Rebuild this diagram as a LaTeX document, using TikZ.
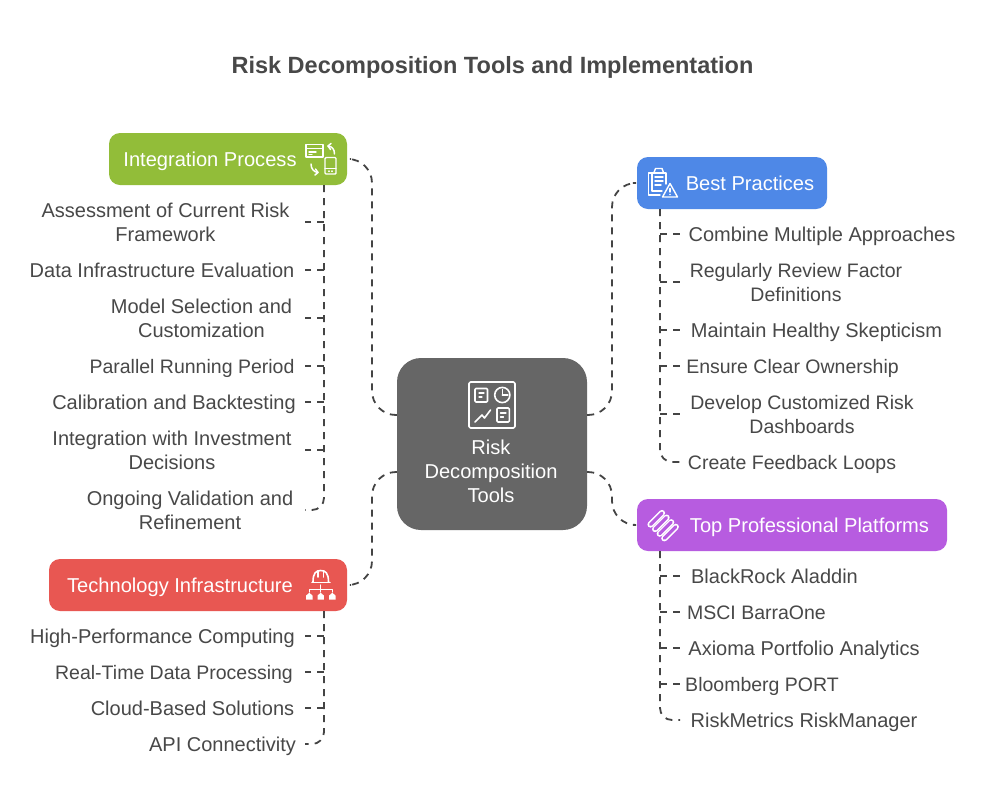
\documentclass[tikz,border=0pt]{standalone}
\usepackage{fontspec}
\setmainfont{Liberation Sans}
\definecolor{ink}{HTML}{484848}
\definecolor{conn}{HTML}{444444}
\definecolor{cgreen}{HTML}{92BD39}
\definecolor{cblue}{HTML}{4E88E7}
\definecolor{cred}{HTML}{E85752}
\definecolor{cpurple}{HTML}{B75CE0}
\definecolor{cdark}{HTML}{666666}
\tikzset{
  head/.style={rounded corners=11pt,inner sep=0pt},
  headtext/.style={text=white,font=\fontsize{20.1}{24}\selectfont,inner sep=0pt,
    execute at begin node=\strut,execute at end node=\strut},
  item/.style={text=ink,font=\fontsize{20}{24}\selectfont,align=center,inner sep=0pt,
    execute at begin node=\strut,execute at end node=\strut},
  itemtight/.style={item,font=\fontsize{19.5}{24}\selectfont},
  link/.style={draw=conn,line width=1.8pt,dash pattern=on 7pt off 6pt},
  ico/.style={draw=white,line width=1.6pt,line cap=round,line join=round},
}
\begin{document}
\begin{tikzpicture}[x=1pt,y=-1pt]
\useasboundingbox (0,0) rectangle (984,804);
\fill[white] (0,0) rectangle (984,804);
\node[text=ink,font=\bfseries\fontsize{23.5}{28}\selectfont,inner sep=0pt] (title) at (492.5,67) {Risk Decomposition Tools and Implementation};

% boxes
\node[head,fill=cdark,rounded corners=24pt,minimum width=190pt,minimum height=172pt] (center) at (492,444) {};
\node[head,fill=cgreen,minimum width=238pt,minimum height=52pt] (integ) at (228,159) {};
\node[head,fill=cred,minimum width=298pt,minimum height=52pt] (tech) at (198,585) {};
\node[head,fill=cblue,minimum width=190pt,minimum height=52pt] (best) at (732,183) {};
\node[head,fill=cpurple,minimum width=310pt,minimum height=52pt] (plat) at (792,525) {};

\node[headtext,align=center] (centerlabel) at (491,475.2) {Risk\\Decomposition\\Tools};
\node[headtext] (integlabel) at (210,161.2) {Integration Process};
\node[headtext] (techlabel) at (180,587.2) {Technology Infrastructure};
\node[headtext] (bestlabel) at (750,185.2) {Best Practices};
\node[headtext] (platlabel) at (809.5,527.2) {Top Professional Platforms};

% items left upper
\node[item] (a1) at (165.5,226.2) {Assessment of Current Risk\\Framework};
\node[item] (a2) at (162,272.2) {Data Infrastructure Evaluation};
\node[item] (a3) at (201.5,322.2) {Model Selection and\\Customization};
\node[itemtight] (a4) at (192,368.2) {Parallel Running Period};
\node[item] (a5) at (174,404.2) {Calibration and Backtesting};
\node[item] (a6) at (172,454.2) {Integration with Investment\\Decisions};
\node[item] (a7) at (190,514.2) {Ongoing Validation and\\Refinement};
% items left lower
\node[item] (b1) at (162.5,638.2) {High-Performance Computing};
\node[itemtight] (b2) at (174,674.2) {Real-Time Data Processing};
\node[item] (b3) at (192.5,710.2) {Cloud-Based Solutions};
\node[item] (b4) at (222.5,746.2) {API Connectivity};
% items right upper
\node[item] (c1) at (822,236.2) {Combine Multiple Approaches};
\node[itemtight] (c2) at (796,286.2) {Regularly Review Factor\\Definitions};
\node[item] (c3) at (816.5,332.2) {Maintain Healthy Skepticism};
\node[itemtight] (c4) at (792.5,368.2) {Ensure Clear Ownership};
\node[itemtight] (c5) at (802,418.2) {Develop Customized Risk\\Dashboards};
\node[itemtight] (c6) at (792,464.2) {Create Feedback Loops};
% items right lower
\node[item] (d1) at (774.5,578.2) {BlackRock Aladdin};
\node[itemtight] (d2) at (756.5,614.2) {MSCI BarraOne};
\node[item] (d3) at (804,650.2) {Axioma Portfolio Analytics};
\node[itemtight] (d4) at (762,686.2) {Bloomberg PORT};
\node[item] (d5) at (804,722.2) {RiskMetrics RiskManager};

% trunks
\coordinate (ta) at (324,185); \coordinate (sa) at (305,185);
\coordinate (tb) at (324,611); \coordinate (sb) at (305,611);
\coordinate (tc) at (660,209); \coordinate (sc) at (680,209);
\coordinate (td) at (660,551); \coordinate (sd) at (680,551);
\coordinate (midl) at (372,444); \coordinate (midr) at (612,444);
\coordinate (cl1) at ([yshift=29pt]center.west);
\coordinate (cl2) at ([yshift=-28pt]center.west);
\coordinate (cr1) at ([yshift=29pt]center.east);
\coordinate (cr2) at ([yshift=-28pt]center.east);

% main connectors
\draw[link,rounded corners=24pt] (cl1) -- (midl |- cl1) -- (midl |- integ.east) -- ([xshift=4pt]integ.east);
\draw[link,rounded corners=24pt] (cl2) -- (midl |- cl2) -- (midl |- tech.east) -- ([xshift=4pt]tech.east);
\draw[link,rounded corners=24pt] (cr1) -- (midr |- cr1) -- (midr |- best.west) -- ([xshift=-4pt]best.west);
\draw[link,rounded corners=24pt] (cr2) -- (midr |- cr2) -- (midr |- plat.west) -- ([xshift=-4pt]plat.west);

% trunk lines and stubs (stubs sit above the node centres by the given amount)
\coordinate (ea) at ([yshift=4.2pt]a7.center);
\coordinate (eb) at ([yshift=2.2pt]b4.center);
\coordinate (ec) at ([yshift=2.2pt]c6.center);
\coordinate (ed) at ([yshift=2.2pt]d5.center);
\draw[link,rounded corners=12pt] (ta) -- (ta |- ea) -- (sa |- ea);
\foreach \n/\s in {a1/4.2,a2/2.2,a3/4.2,a4/2.2,a5/2.2,a6/4.2} {\coordinate (k) at ([yshift=\s pt]\n.center); \draw[link] (ta |- k) -- (sa |- k);}
\draw[link,rounded corners=12pt] (tb) -- (tb |- eb) -- (sb |- eb);
\foreach \n in {b1,b2,b3} {\coordinate (k) at ([yshift=2.2pt]\n.center); \draw[link] (tb |- k) -- (sb |- k);}
\draw[link,rounded corners=12pt] (tc) -- (tc |- ec) -- (sc |- ec);
\foreach \n/\s in {c1/2.2,c2/4.2,c3/2.2,c4/2.2,c5/4.2} {\coordinate (k) at ([yshift=\s pt]\n.center); \draw[link] (tc |- k) -- (sc |- k);}
\draw[link,rounded corners=12pt] (td) -- (td |- ed) -- (sd |- ed);
\foreach \n in {d1,d2,d3,d4} {\coordinate (k) at ([yshift=2.2pt]\n.center); \draw[link] (td |- k) -- (sd |- k);}

% centre icon
\draw[ico,rounded corners=1.5pt] (469,382) rectangle (515,428);
\draw[ico,rounded corners=1pt] (475,388.5) rectangle (487.5,402);
\draw[ico,line width=1.3pt] (479,393) -- (484,393) (479,397) -- (482,397);
\draw[ico] (502.3,395) circle (7.6);
\draw[ico,line width=1.3pt] (502.3,395) -- (502.3,389.5) (502.3,395) -- (508,395);
\draw[ico] (475,422) -- (482,415) -- (484.5,418) -- (490.5,410);
\draw[ico,rounded corners=1pt] (497,408) rectangle (509.3,422);
\draw[ico,line width=1.3pt] (500.5,413) -- (506,413) (500.5,417) -- (503.5,417);

% integration icon
\draw[ico,line width=1.4pt] (306,144.5) rectangle (323,157);
\draw[ico,line width=1.4pt] (306,148.5) -- (323,148.5);
\draw[ico,line width=1.4pt] (309,152) -- (316,152) (309,154.5) -- (312,154.5);
\draw[ico,line width=1.4pt,rounded corners=1pt] (325,157.5) rectangle (336,174);
\draw[ico,line width=1.4pt] (325,168.5) -- (336,168.5) (329,171) -- (329,171.5) (332,171) -- (332,171.5);
\draw[ico,line width=1.5pt] (334.5,154) .. controls (334.5,149) and (332,146.5) .. (328,146);
\draw[ico,line width=1.5pt] (331,143.5) -- (328,146) -- (330.5,149.5);
\draw[ico,line width=1.5pt] (311,164) .. controls (311,169) and (314,172) .. (318,172.5);
\draw[ico,line width=1.5pt] (315,175) -- (318,172.5) -- (315.5,169);

% technology icon
\draw[ico] (313,582) .. controls (313,573) and (316,570.5) .. (320.7,570.5) .. controls (325.4,570.5) and (328.5,573) .. (328.5,582);
\draw[ico] (312,582.5) -- (330,582.5);
\draw[ico] (318,571) -- (318,577) (323.5,571) -- (323.5,577);
\draw[ico,line width=1.3pt] (320.7,585) -- (320.7,592) (309.3,592) -- (309.3,589.3) -- (332.3,589.3) -- (332.3,592);
\foreach \xx in {309.3,320.7,332.3} \fill[white] (\xx-3.2,599.5) -- (\xx-3.2,595.5) -- (\xx,592.8) -- (\xx+3.2,595.5) -- (\xx+3.2,599.5) -- cycle;

% best practices icon
\draw[ico,line width=1.4pt] (662,191) -- (652,191) -- (652,173) -- (666,173) -- (666,184);
\draw[ico,line width=1.4pt] (652,173) -- (648.5,173) -- (648.5,195) -- (660,195);
\draw[ico,line width=1.4pt] (654,172.5) -- (655.5,168.5) -- (662,168.5) -- (663.5,172.5);
\draw[ico,line width=1.4pt] (655,177) -- (663,177) (655,181) -- (663,181) (655,185) -- (661,185);
\draw[ico,line width=1.4pt] (662.5,197) -- (670,183.5) -- (677.5,197) -- cycle;
\draw[ico,line width=1.4pt] (670,188.5) -- (670,192);
\fill[white] (670,194.5) circle (0.9);

% platforms icon
\foreach \k in {0,1,2,3}
  \draw[white,line width=6.2pt,line cap=round,shift={(\k*4.6,\k*4.6)}] (650.5,524.5) -- (662,513);
\foreach \k in {0,1,2,3}
  \draw[cpurple,line width=3.2pt,line cap=round,shift={(\k*4.6,\k*4.6)}] (650.5,524.5) -- (662,513);
\end{tikzpicture}
\end{document}
